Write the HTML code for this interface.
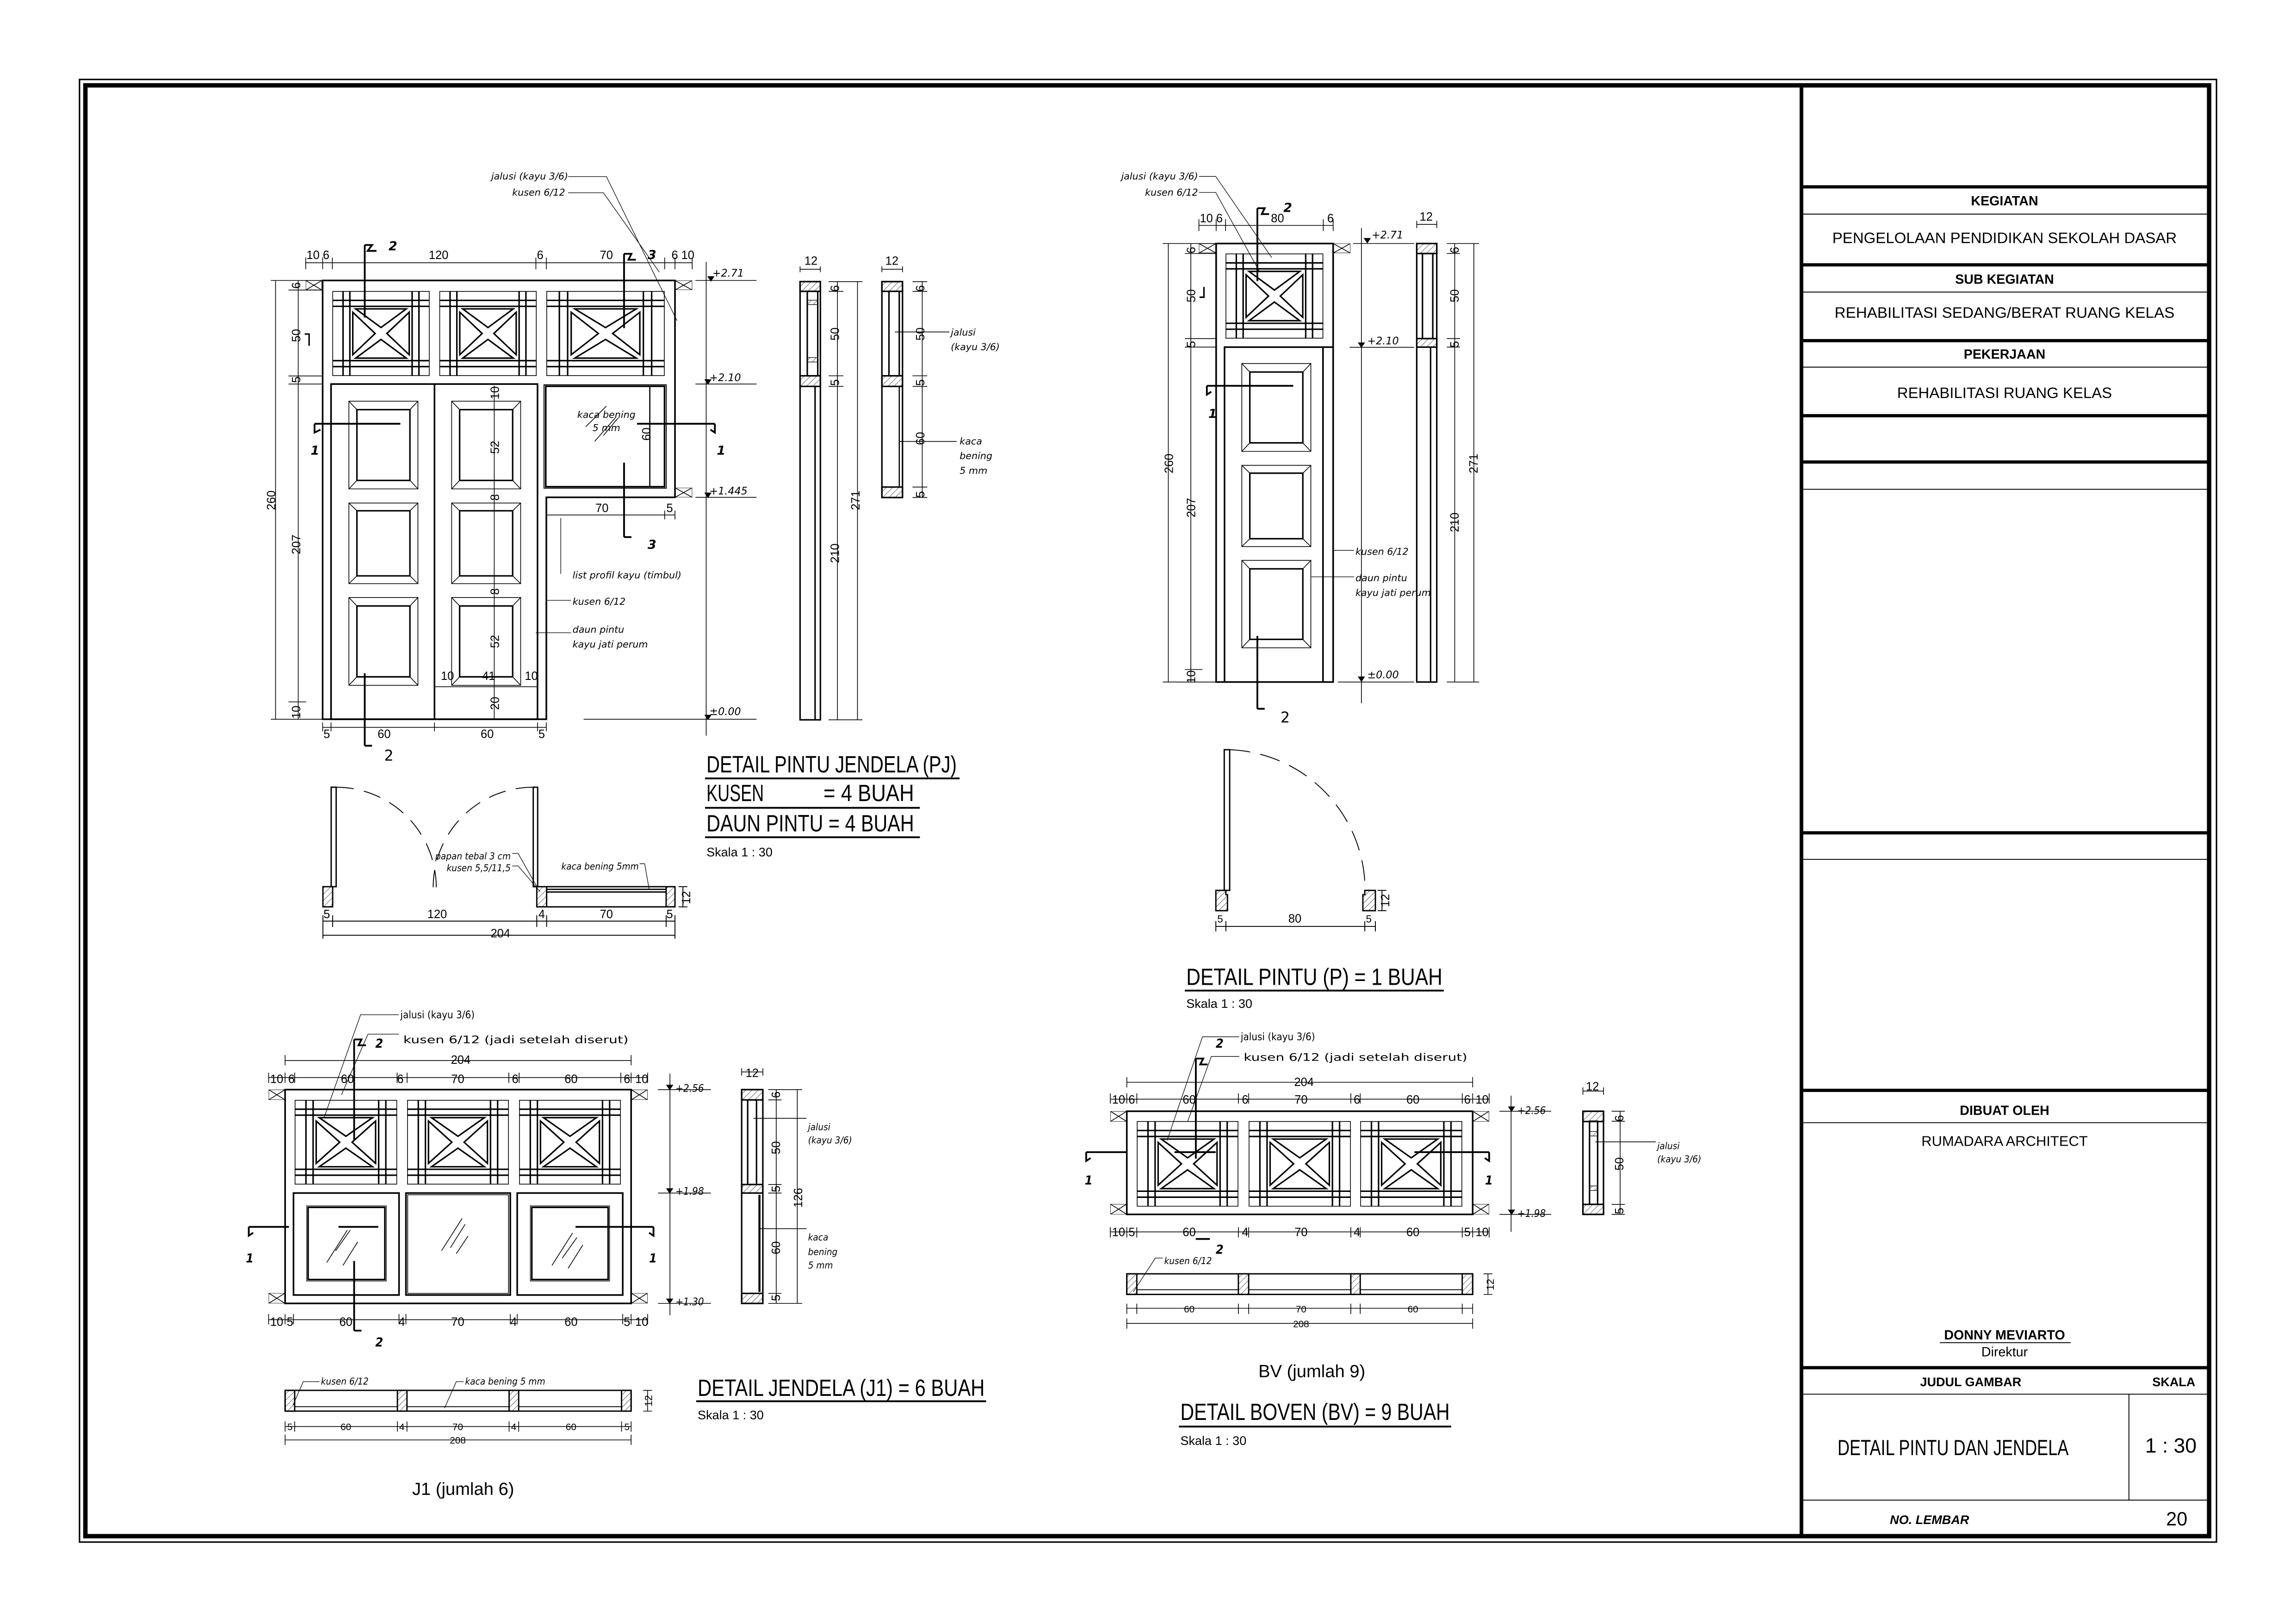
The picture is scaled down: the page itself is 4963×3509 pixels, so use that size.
<!DOCTYPE html>
<html><head><meta charset="utf-8"><style>html,body{margin:0;padding:0;background:#fff}svg{display:block}</style></head><body>
<svg xmlns="http://www.w3.org/2000/svg" width="4963" height="3509" viewBox="0 0 1560 1103">
<defs>
<pattern id="h" width="3" height="3" patternUnits="userSpaceOnUse" patternTransform="rotate(45)"><line x1="0" y1="0" x2="0" y2="3" stroke="#000" stroke-width="0.4"/></pattern>
<symbol id="jal" viewBox="0 0 100 100" preserveAspectRatio="none">
<g fill="none" stroke="#000" stroke-width="3.2">
<rect x="0" y="0" width="100" height="100" vector-effect="non-scaling-stroke"/>
<line x1="11" y1="0" x2="11" y2="100" vector-effect="non-scaling-stroke"/><line x1="89" y1="0" x2="89" y2="100" vector-effect="non-scaling-stroke"/>
<line x1="0" y1="11" x2="100" y2="11" vector-effect="non-scaling-stroke"/><line x1="0" y1="89" x2="100" y2="89" vector-effect="non-scaling-stroke"/>
<line x1="18" y1="0" x2="18" y2="11" vector-effect="non-scaling-stroke"/><line x1="82" y1="0" x2="82" y2="11" vector-effect="non-scaling-stroke"/>
<line x1="18" y1="89" x2="18" y2="100" vector-effect="non-scaling-stroke"/><line x1="82" y1="89" x2="82" y2="100" vector-effect="non-scaling-stroke"/>
<line x1="0" y1="18" x2="11" y2="18" vector-effect="non-scaling-stroke"/><line x1="0" y1="82" x2="11" y2="82" vector-effect="non-scaling-stroke"/>
<line x1="89" y1="18" x2="100" y2="18" vector-effect="non-scaling-stroke"/><line x1="89" y1="82" x2="100" y2="82" vector-effect="non-scaling-stroke"/>
<line x1="11" y1="18" x2="89" y2="18" vector-effect="non-scaling-stroke"/><line x1="11" y1="82" x2="89" y2="82" vector-effect="non-scaling-stroke"/>
<line x1="18" y1="11" x2="18" y2="89" vector-effect="non-scaling-stroke"/><line x1="82" y1="11" x2="82" y2="89" vector-effect="non-scaling-stroke"/>
<polygon points="24,21 76,21 50,43" vector-effect="non-scaling-stroke"/>
<polygon points="24,79 76,79 50,57" vector-effect="non-scaling-stroke"/>
<polygon points="21,25 21,75 44,50" vector-effect="non-scaling-stroke"/>
<polygon points="79,25 79,75 56,50" vector-effect="non-scaling-stroke"/>
</g></symbol>
<symbol id="pan" viewBox="0 0 100 100" preserveAspectRatio="none">
<g fill="none" stroke="#000" stroke-width="3.2">
<rect x="0" y="0" width="100" height="100" vector-effect="non-scaling-stroke"/>
<rect x="12" y="10" width="76" height="80" vector-effect="non-scaling-stroke"/>
<g stroke-width="1.6"><line x1="0" y1="0" x2="12" y2="10" vector-effect="non-scaling-stroke"/><line x1="100" y1="0" x2="88" y2="10" vector-effect="non-scaling-stroke"/>
<line x1="0" y1="100" x2="12" y2="90" vector-effect="non-scaling-stroke"/><line x1="100" y1="100" x2="88" y2="90" vector-effect="non-scaling-stroke"/></g>
</g></symbol>
<symbol id="hx" viewBox="0 0 10 10" preserveAspectRatio="none">
<g fill="none" stroke="#000" stroke-width="1.6"><rect x="0" y="0" width="10" height="10" vector-effect="non-scaling-stroke"/><path d="M0 0L10 10M10 0L0 10" vector-effect="non-scaling-stroke"/></g></symbol>
</defs>
<rect width="1560" height="1103" fill="#fff"/>
<!-- border -->
<rect x="54" y="54" width="1452" height="994" fill="none" stroke="#000" stroke-width="1"/>
<rect x="58" y="58" width="1443" height="986" fill="none" stroke="#000" stroke-width="3"/>
<!-- title block -->
<g stroke="#000" fill="none">
<line x1="1224" y1="58" x2="1224" y2="1044" stroke-width="2.5"/>
<g stroke-width="2.2">
<line x1="1224" y1="127" x2="1501" y2="127"/><line x1="1224" y1="180" x2="1501" y2="180"/><line x1="1224" y1="231.5" x2="1501" y2="231.5"/>
<line x1="1224" y1="282.5" x2="1501" y2="282.5"/><line x1="1224" y1="314" x2="1501" y2="314"/><line x1="1224" y1="566" x2="1501" y2="566"/>
<line x1="1224" y1="741" x2="1501" y2="741"/><line x1="1224" y1="929.5" x2="1501" y2="929.5"/>
</g>
<g stroke-width="0.6">
<line x1="1224" y1="145.5" x2="1501" y2="145.5"/><line x1="1224" y1="198.5" x2="1501" y2="198.5"/><line x1="1224" y1="249.5" x2="1501" y2="249.5"/>
<line x1="1224" y1="332.5" x2="1501" y2="332.5"/><line x1="1224" y1="584" x2="1501" y2="584"/><line x1="1224" y1="763" x2="1501" y2="763"/>
<line x1="1224" y1="947.5" x2="1501" y2="947.5"/><line x1="1224" y1="1019.5" x2="1501" y2="1019.5"/><line x1="1446.5" y1="947.5" x2="1446.5" y2="1019.5"/>
<line x1="1318" y1="912.5" x2="1407" y2="912.5"/>
</g></g>
<g font-family="Liberation Sans, sans-serif" text-anchor="middle" fill="#000">
<text x="1362" y="139.6" font-size="9" font-weight="bold">KEGIATAN</text>
<text x="1362" y="165.2" font-size="10.3" textLength="234" lengthAdjust="spacingAndGlyphs">PENGELOLAAN PENDIDIKAN SEKOLAH DASAR</text>
<text x="1362" y="192.9" font-size="9" font-weight="bold">SUB KEGIATAN</text>
<text x="1362" y="215.9" font-size="10.3" textLength="231" lengthAdjust="spacingAndGlyphs">REHABILITASI SEDANG/BERAT RUANG KELAS</text>
<text x="1362" y="243.8" font-size="9" font-weight="bold">PEKERJAAN</text>
<text x="1362" y="270.5" font-size="10.3" textLength="146" lengthAdjust="spacingAndGlyphs">REHABILITASI RUANG KELAS</text>
<text x="1362" y="757.7" font-size="9" font-weight="bold">DIBUAT OLEH</text>
<text x="1362" y="778.8" font-size="9.5" textLength="113" lengthAdjust="spacingAndGlyphs">RUMADARA ARCHITECT</text>
<text x="1362" y="910.3" font-size="9" font-weight="bold">DONNY MEVIARTO</text>
<text x="1362" y="921.8" font-size="9">Direktur</text>
<text x="1339" y="942" font-size="8.5" font-weight="bold">JUDUL GAMBAR</text>
<text x="1477" y="942" font-size="8.5" font-weight="bold">SKALA</text>
<text x="1327" y="988.9" font-size="15" font-family="Liberation Sans Narrow, Liberation Sans, sans-serif" textLength="157" lengthAdjust="spacingAndGlyphs">DETAIL PINTU DAN JENDELA</text>
<text x="1475" y="987.2" font-size="14">1 : 30</text>
<text x="1311" y="1035.7" font-size="8.5" font-weight="bold" font-style="italic">NO. LEMBAR</text>
<text x="1479" y="1036.7" font-size="13">20</text>
</g>

<!-- ================= PJ ================= -->
<g fill="none" stroke="#000" stroke-width="1.1">
<path d="M219.2,488.8 V190.6 H458.6 V338 H371.2 V488.8 Z"/>
<use href="#jal" x="225.8" y="197.8" width="66.1" height="57.7"/>
<use href="#jal" x="298.5" y="197.8" width="66.1" height="57.7"/>
<use href="#jal" x="371.2" y="197.8" width="80.4" height="57.7"/>
<rect x="224.9" y="261" width="140.3" height="227.8"/>
<line x1="295.2" y1="261" x2="295.2" y2="488.8"/>
<use href="#pan" x="236.8" y="272.4" width="47.4" height="60.1"/>
<use href="#pan" x="236.8" y="341.6" width="47.4" height="55.3"/>
<use href="#pan" x="236.8" y="405.8" width="47.4" height="60.2"/>
<use href="#pan" x="306.6" y="272.4" width="47.4" height="60.1"/>
<use href="#pan" x="306.6" y="341.6" width="47.4" height="55.3"/>
<use href="#pan" x="306.6" y="405.8" width="47.4" height="60.2"/>
<rect x="369.6" y="261.5" width="83.1" height="70.3" stroke-width="0.6"/>
<rect x="370.8" y="262.5" width="80.7" height="68.3"/>
<line x1="441.5" y1="262.5" x2="441.5" y2="330.8" stroke-width="0.8"/>
</g>
<use href="#hx" x="207.7" y="190.6" width="11" height="6.5"/>
<use href="#hx" x="458.6" y="190.6" width="11.7" height="6.5"/>
<use href="#hx" x="458.6" y="331.5" width="11.7" height="6.5"/>
<g fill="none" stroke="#000" stroke-width="0.5">
<path d="M398,290 l14,-14 M404,300 l14,-16 M410,296 l10,-12"/>
<line x1="207.7" y1="178.6" x2="470.3" y2="178.6"/>
<path d="M207.7,175v8M219.2,175v8M225.8,175v8M364.1,175v8M371.2,175v8M451.6,175v8M458.6,175v8M470.3,175v8"/>
<line x1="187.2" y1="190.6" x2="187.2" y2="488.8"/><line x1="202.6" y1="190.6" x2="202.6" y2="488.8"/>
<path d="M184,190.6h35M196,197.1h23M196,255.5h23M196,261h23M196,477h12M184,488.8h35"/>
<path d="M207,227h3v8" stroke-width="1"/>
<line x1="479.8" y1="178" x2="479.8" y2="500"/>
<path d="M472.5,190.6H514M472.5,261H514M472.5,338H514M396.5,488.8H514"/>
<path d="M481,188h4l-2,3zM479,258h4l-2,3zM479,335h4l-2,3zM479,486h4l-2,3z" fill="#000"/>
<line x1="219.2" y1="494.3" x2="371.2" y2="494.3"/>
<path d="M219.2,491v6M224.9,491v6M295.2,491v6M365.2,491v6M371.2,491v6"/>
<line x1="335.8" y1="262" x2="335.8" y2="488.8"/>
<path d="M295.2,466.7h70"/>
<line x1="371.2" y1="350" x2="451.6" y2="350"/><path d="M371.2,347v6M451.6,347v6M458.6,347v6"/>
<line x1="451.6" y1="350" x2="458.6" y2="350"/>
<path d="M386,120H412L460,218M386,131H410L448,185" stroke-width="0.4"/>
<path d="M381,352V390M371,408H388M364,430H388" stroke-width="0.4"/>
</g>
<g stroke="#000" stroke-width="1.2" fill="none">
<path d="M247.8,166.5V215.8M247.8,166.5h5l-3,4h6"/>
<path d="M247.8,457.5V506.8M247.8,506.8h5"/>
<path d="M213.7,288H272M213.7,288v6l4,-2"/>
<path d="M432.8,288H485.7M485.7,288v6l-3,-2"/>
<path d="M424,172.5V223M424,172.5h5l-2,4h5"/>
<path d="M424,314.4V365M424,365h5"/>
</g>
<g font-family="Liberation Sans Narrow, Liberation Sans, sans-serif" font-size="8" fill="#000" text-anchor="middle">
<text x="216" y="176">10 6</text><text x="298" y="176">120</text><text x="367" y="176">6</text><text x="412" y="176">70</text><text x="464" y="176">6 10</text>
<text x="261" y="501.5">60</text><text x="331" y="501.5">60</text><text x="222" y="501.5">5</text><text x="368" y="501.5">5</text>
<text x="409" y="348">70</text><text x="455" y="348">5</text>
<text x="304" y="462">10</text><text x="332" y="462">41</text><text x="361" y="462">10</text>
<g transform="rotate(-90)">
<text x="-340" y="187">260</text><text x="-370" y="204">207</text><text x="-194" y="204">6</text><text x="-228" y="204">50</text><text x="-258" y="204">5</text><text x="-484" y="204">10</text>
<text x="-267" y="339">10</text><text x="-304" y="339">52</text><text x="-338" y="339">8</text><text x="-402" y="339">8</text><text x="-436" y="339">52</text><text x="-478" y="339">20</text>
<text x="-295" y="442">60</text>
</g></g>
<g font-family="DejaVu Sans, sans-serif" font-size="7" font-style="italic" fill="#000">
<text x="484" y="188">+2.71</text><text x="482" y="259">+2.10</text><text x="482" y="336">+1.445</text><text x="482" y="486">±0.00</text>
<text x="386" y="122" text-anchor="end" font-size="6.5">jalusi (kayu 3/6)</text>
<text x="384" y="133" text-anchor="end" font-size="6.5">kusen 6/12</text>
<text x="412" y="284" text-anchor="middle" font-size="6.5">kaca bening</text>
<text x="412" y="293" text-anchor="middle" font-size="6.5">5 mm</text>
<text x="389" y="393" font-size="6.5">list profil kayu (timbul)</text>
<text x="389" y="411" font-size="6.5">kusen 6/12</text>
<text x="389" y="430" font-size="6.5">daun pintu</text>
<text x="389" y="440" font-size="6.5">kayu jati perum</text>
<text x="264" y="170" font-weight="bold" font-size="8.5">2</text>
<text x="440" y="176" font-weight="bold" font-size="8.5">3</text>
<text x="440" y="373" font-weight="bold" font-size="8.5">3</text>
<text x="211" y="309" font-weight="bold" font-size="8.5">1</text>
<text x="487" y="309" font-weight="bold" font-size="8.5">1</text>
<text x="261" y="517" font-size="10" font-style="normal">2</text>
</g>

<!-- PJ sections -->
<g fill="none" stroke="#000" stroke-width="1">
<rect x="543.6" y="191.4" width="13.8" height="297.8"/>
<rect x="543.6" y="191.4" width="13.8" height="6.6" fill="url(#h)"/>
<rect x="543.6" y="255.4" width="13.8" height="7.2" fill="url(#h)"/>
<rect x="548.5" y="198" width="7.1" height="57.4"/>
<rect x="548.5" y="204" width="7.1" height="3" fill="url(#h)" stroke-width="0.4"/>
<rect x="548.5" y="243" width="7.1" height="3" fill="url(#h)" stroke-width="0.4"/>
<line x1="553.8" y1="262.6" x2="553.8" y2="489.2"/>
<rect x="599.2" y="191.4" width="14" height="146.7"/>
<rect x="599.2" y="191.4" width="14" height="6.6" fill="url(#h)"/>
<rect x="599.2" y="255.4" width="14" height="7.2" fill="url(#h)"/>
<rect x="599.2" y="331" width="14" height="7.1" fill="url(#h)"/>
<rect x="604" y="198" width="7" height="57.4"/>
<line x1="611" y1="262.6" x2="611" y2="331" stroke-width="0.8"/>
</g>
<g fill="none" stroke="#000" stroke-width="0.5">
<path d="M543.6,181v4M557.4,181v4M543.6,183H557.4M599.2,181v4M613.2,181v4M599.2,183H613.2"/>
<path d="M569,191.4V489.2M582.6,191.4V489.2M563,191.4h23M563,198h10M563,255.4h10M563,262.6h10M563,489.2h23"/>
<path d="M626.6,191.4V338.1M620,191.4h10M620,198h10M620,255.4h10M620,262.6h10M620,331h10M620,338.1h10"/>
<path d="M608,225.6H645M611,300H650"/>
</g>
<g font-family="Liberation Sans Narrow, Liberation Sans, sans-serif" font-size="8" fill="#000" text-anchor="middle">
<text x="551" y="180">12</text><text x="606" y="180">12</text>
<g transform="rotate(-90)">
<text x="-196" y="570">6</text><text x="-227" y="570">50</text><text x="-260" y="570">5</text><text x="-376" y="570">210</text><text x="-340" y="584">271</text>
<text x="-196" y="628">6</text><text x="-227" y="628">50</text><text x="-260" y="628">5</text><text x="-298" y="628">60</text><text x="-336" y="628">5</text>
</g></g>
<g font-family="DejaVu Sans, sans-serif" font-size="6.5" font-style="italic" fill="#000">
<text x="646" y="228">jalusi</text><text x="646" y="238">(kayu 3/6)</text>
<text x="652" y="302">kaca</text><text x="652" y="312">bening</text><text x="652" y="322">5 mm</text>
</g>

<!-- PJ plan -->
<g fill="none" stroke="#000" stroke-width="0.9">
<rect x="225" y="535" width="3.4" height="67.6"/>
<rect x="362.3" y="535" width="3" height="67.6"/>
<rect x="219.4" y="602.6" width="6.6" height="13.7" fill="url(#h)"/>
<rect x="364.7" y="602.6" width="6.7" height="13.7" fill="url(#h)"/>
<rect x="452.6" y="602.6" width="6" height="13.7" fill="url(#h)"/>
<path d="M371.4,602.6H452.6M371.4,604.4H452.6M371.4,606.2H452.6M371.4,616.3H452.6"/>
<path d="M228.4,535 A68,68 0 0 1 296.4,603" stroke-dasharray="12,7" stroke-width="0.6"/>
<path d="M362.3,535 A68,68 0 0 0 294.3,603" stroke-dasharray="12,7" stroke-width="0.6"/>
</g>
<g fill="none" stroke="#000" stroke-width="0.6">
<path d="M219.4,626H458.6M219.4,635.6H458.6M219.4,622v16M226,622v8M364.7,622v8M371.4,622v8M452.6,622v8M458.6,622v16"/>
<path d="M464,602.6v13.7M461,602.6h6M461,616.3h6"/>
<path d="M348,580H352L365,603M348,588.5H352L367,606M434.6,587H438L441,604" stroke-width="0.4"/>
</g>
<g font-family="Liberation Sans Narrow, Liberation Sans, sans-serif" font-size="8" fill="#000" text-anchor="middle">
<text x="297" y="624">120</text><text x="412" y="624">70</text><text x="340" y="637">204</text><text x="222" y="624">5</text><text x="368" y="624">4</text><text x="455" y="624">5</text>
<text transform="translate(469,610) rotate(-90)">12</text>
</g>
<g font-family="DejaVu Sans Condensed, DejaVu Sans, sans-serif" font-size="6.5" font-style="italic" fill="#000" text-anchor="end">
<text x="347" y="584">papan tebal 3 cm</text><text x="347" y="592">kusen 5,5/11,5</text>
<text x="434" y="591">kaca bening 5mm</text>
</g>
<g font-family="Liberation Sans Narrow, Liberation Sans, sans-serif" fill="#000">
<text x="480" y="525" font-size="16" textLength="170" lengthAdjust="spacingAndGlyphs">DETAIL PINTU JENDELA (PJ)</text>
<text x="480" y="544.5" font-size="16" textLength="39" lengthAdjust="spacingAndGlyphs">KUSEN</text><text x="559.5" y="544.5" font-size="16" textLength="61.5" lengthAdjust="spacingAndGlyphs">= 4 BUAH</text>
<text x="480" y="565" font-size="16" textLength="141" lengthAdjust="spacingAndGlyphs">DAUN PINTU = 4 BUAH</text>
<text x="480" y="582" font-size="8.5">Skala 1 : 30</text>
</g>
<g stroke="#000" stroke-width="1.2"><line x1="479" y1="529" x2="652" y2="529"/><line x1="479" y1="549" x2="625" y2="549"/><line x1="479" y1="569" x2="625" y2="569"/></g>

<!-- ================= P (door) ================= -->
<g fill="none" stroke="#000" stroke-width="1.1">
<rect x="826.3" y="165.5" width="79.5" height="298"/>
<use href="#jal" x="832.7" y="172.3" width="66.4" height="57.8"/>
<path d="M832,463.5V235.9H905.8M898.9,235.9V463.5"/>
<use href="#pan" x="843.5" y="246.8" width="47.4" height="60.2"/>
<use href="#pan" x="843.5" y="316" width="47.4" height="55.7"/>
<use href="#pan" x="843.5" y="380.6" width="47.4" height="59.9"/>
</g>
<use href="#hx" x="814.6" y="165.5" width="11.7" height="6.5"/>
<use href="#hx" x="905.8" y="165.5" width="11.7" height="6.5"/>
<g fill="none" stroke="#000" stroke-width="0.5">
<path d="M814.6,153.2H905.8M814.6,149v8M826.3,149v8M832.7,149v8M899.1,149v8M905.8,149v8"/>
<path d="M793.8,165.5V463.5M809.1,165.5V463.5M790,165.5h36M805,172.3h21M805,230.1h21M805,235.9h21M805,455h12M790,463.5h36"/>
<path d="M815,202h3v-7" stroke-width="1"/>
<path d="M925,155V478M919.3,165.5H960.8M917,236H960.8M909,463.5H960.8"/>
<path d="M927,162h4l-2,3zM923,233h4l-2,3zM923,460h4l-2,3z" fill="#000"/>
<path d="M814.6,119.9H826L864,175M814.6,130.8H826L856,185" stroke-width="0.4"/>
<path d="M906,374H920M891,392H920" stroke-width="0.4"/>
</g>
<g fill="none" stroke="#000" stroke-width="1">
<rect x="962.6" y="165.5" width="13.6" height="298"/>
<rect x="962.6" y="165.5" width="13.6" height="6.8" fill="url(#h)"/>
<rect x="962.6" y="230.1" width="13.6" height="5.8" fill="url(#h)"/>
<rect x="966.5" y="172.3" width="7" height="57.8"/>
<line x1="972" y1="235.9" x2="972" y2="463.5"/>
</g>
<g fill="none" stroke="#000" stroke-width="0.5">
<path d="M962.6,150v5M976.2,150v5M962.6,152.5H976.2"/>
<path d="M988.4,165.5V463.5M1001.4,165.5V463.5M983,165.5h22M983,172.3h9M983,230.1h9M983,235.9h9M983,463.5h22"/>
</g>
<g stroke="#000" stroke-width="1.2" fill="none">
<path d="M854.3,141.5V191M854.3,141.5h5l-2,4h5"/>
<path d="M854.3,432.2V481.7M854.3,481.7h5"/>
<path d="M820,262.2H878.7M820,262.2v6l3,-2"/>
</g>
<g font-family="Liberation Sans Narrow, Liberation Sans, sans-serif" font-size="8" fill="#000" text-anchor="middle">
<text x="823" y="151">10 6</text><text x="868" y="151">80</text><text x="904" y="151">6</text><text x="969" y="150">12</text>
<g transform="rotate(-90)">
<text x="-315" y="797">260</text><text x="-345" y="812">207</text><text x="-170" y="812">6</text><text x="-201" y="812">50</text><text x="-234" y="812">5</text><text x="-460" y="812">10</text>
<text x="-170" y="991">6</text><text x="-201" y="991">50</text><text x="-234" y="991">5</text><text x="-355" y="991">210</text><text x="-315" y="1004">271</text>
</g></g>
<g font-family="DejaVu Sans, sans-serif" font-size="7" font-style="italic" fill="#000">
<text x="932" y="162">+2.71</text><text x="929" y="234">+2.10</text><text x="929" y="461">±0.00</text>
<text x="814" y="122" text-anchor="end" font-size="6.5">jalusi (kayu 3/6)</text>
<text x="814" y="133" text-anchor="end" font-size="6.5">kusen 6/12</text>
<text x="921" y="377" font-size="6.5">kusen 6/12</text>
<text x="921" y="395" font-size="6.5">daun pintu</text>
<text x="921" y="405" font-size="6.5">kayu jati perum</text>
<text x="872" y="144" font-weight="bold" font-size="8.5">2</text>
<text x="821" y="284" font-weight="bold" font-size="8.5">1</text>
<text x="870" y="491" font-size="10" font-style="normal">2</text>
</g>
<!-- P plan -->
<g fill="none" stroke="#000" stroke-width="0.9">
<rect x="831.8" y="509.5" width="3.7" height="95.6"/>
<path d="M826.1,605.1H832.9V608H834V618.9H826.1Z" fill="url(#h)"/>
<path d="M934.5,605.1H927.3V608H926V618.9H934.5Z" fill="url(#h)"/>
<path d="M835.5,509.5 A95.6,95.6 0 0 1 927.5,605" stroke-dasharray="14,7" stroke-width="0.6"/>
</g>
<g fill="none" stroke="#000" stroke-width="0.6">
<path d="M826.1,629.6H934.5M826.1,626v7M832.9,626v7M927.3,626v7M934.5,626v7"/>
<path d="M939,605.1v13.8M936,605.1h6M936,618.9h6"/>
</g>
<g font-family="Liberation Sans Narrow, Liberation Sans, sans-serif" fill="#000">
<text x="879.8" y="627" font-size="8" text-anchor="middle">80</text><text x="829" y="627" font-size="7" text-anchor="middle">5</text><text x="930" y="627" font-size="7" text-anchor="middle">5</text>
<text transform="translate(944,612) rotate(-90)" font-size="8" text-anchor="middle">12</text>
<text x="806" y="669.3" font-size="16" textLength="174" lengthAdjust="spacingAndGlyphs">DETAIL PINTU  (P) = 1 BUAH</text>
<text x="806" y="685" font-size="8.5">Skala 1 : 30</text>
</g>
<line x1="805" y1="673.2" x2="981" y2="673.2" stroke="#000" stroke-width="1.2"/>

<!-- ================= J1 ================= -->
<g fill="none" stroke="#000" stroke-width="1.1">
<rect x="193.7" y="740.5" width="235.1" height="145.3"/>
<use href="#jal" x="200.2" y="747.5" width="69.6" height="57.5"/>
<use href="#jal" x="276.6" y="747.5" width="69.1" height="57.5"/>
<use href="#jal" x="352.7" y="747.5" width="69.1" height="57.5"/>
<rect x="199.4" y="810.8" width="71.7" height="69.3"/>
<rect x="275.8" y="810.8" width="70.9" height="69.3"/>
<rect x="277" y="812" width="68.5" height="67" stroke-width="0.5"/>
<rect x="351.4" y="810.8" width="71.7" height="69.3"/>
<rect x="209.3" y="820.5" width="52.2" height="49.1"/>
<rect x="208.3" y="819.5" width="54.2" height="51.1" stroke-width="0.4"/>
<rect x="361.3" y="820.5" width="51.9" height="49.1"/>
<rect x="360.3" y="819.5" width="53.9" height="51.1" stroke-width="0.4"/>
</g>
<use href="#hx" x="182.5" y="740.5" width="11.2" height="7"/>
<use href="#hx" x="182.5" y="878.8" width="11.2" height="7"/>
<use href="#hx" x="428.8" y="740.5" width="11.2" height="7"/>
<use href="#hx" x="428.8" y="878.8" width="11.2" height="7"/>
<g fill="none" stroke="#000" stroke-width="0.5">
<path d="M222,858l14,-22M228,850l10,-14M233,860l10,-16M300,850l14,-22M306,848l10,-16M310,852l8,-12M375,860l14,-22M382,855l10,-14M386,862l10,-16"/>
<path d="M193.7,720.7H428.8M193.7,717v7M428.8,717v7"/>
<path d="M182.5,732.3H440M182.5,729v7M193.7,729v7M200.2,729v7M269.8,729v7M276.6,729v7M345.7,729v7M352.7,729v7M421.8,729v7M428.8,729v7M440,729v7"/>
<path d="M182.5,896.9H440M182.5,893v7M193.7,893v7M199.4,893v7M271.1,893v7M275.8,893v7M346.7,893v7M351.4,893v7M423.1,893v7M428.8,893v7M440,893v7"/>
<path d="M455.2,729.6V893.8M447.1,740.5H483M447.1,810.8H483M447.1,885.8H483"/>
<path d="M453,737.5h4l-2,3zM453,807.8h4l-2,3zM453,882.8h4l-2,3z" fill="#000"/>
<path d="M271,689.6H245L220,760M271,702.8H250L232,744" stroke-width="0.4"/>
</g>
<g stroke="#000" stroke-width="1.2" fill="none">
<path d="M240.6,706.4V774.8M240.6,706.4h5l-2,4h5"/>
<path d="M240.6,857V904.3M240.6,904.3h5"/>
<path d="M169,833.8H196.3M169,833.8v6l3,-2"/>
<path d="M391,833.8H444M444,833.8v6l-3,-2"/>
<path d="M230,833.8H257"/>
</g>
<g fill="none" stroke="#000" stroke-width="1">
<rect x="503.9" y="740.5" width="14.4" height="145.3"/>
<rect x="503.9" y="740.5" width="14.4" height="7" fill="url(#h)"/>
<rect x="503.9" y="805" width="14.4" height="5.8" fill="url(#h)"/>
<rect x="503.9" y="879" width="14.4" height="6.8" fill="url(#h)"/>
<rect x="508" y="747.5" width="6" height="57.5"/>
<line x1="516" y1="812" x2="516" y2="878" stroke-width="1.4"/>
</g>
<g fill="none" stroke="#000" stroke-width="0.5">
<path d="M503.9,726v5M518.3,726v5M503.9,728.5H518.3"/>
<path d="M527.4,740.5V885.8M541.7,740.5V885.8M522,740.5h23M522,747.5h9M522,805h9M522,810.8h9M522,879h9M522,885.8h23"/>
<path d="M512,760H548M516,835H548"/>
</g>
<!-- J1 plan -->
<g fill="none" stroke="#000" stroke-width="0.9">
<rect x="193.7" y="944.9" width="235.1" height="14.1"/>
<rect x="193.7" y="944.9" width="6.5" height="14.1" fill="url(#h)"/>
<rect x="270" y="944.9" width="6.5" height="14.1" fill="url(#h)"/>
<rect x="345.9" y="944.9" width="6.5" height="14.1" fill="url(#h)"/>
<rect x="422.3" y="944.9" width="6.5" height="14.1" fill="url(#h)"/>
<path d="M200.2,956H270M276.5,956H345.9M352.4,956H422.3" stroke-width="0.6"/>
</g>
<g fill="none" stroke="#000" stroke-width="0.5">
<path d="M193.7,969.5H428.8M193.7,966v7M200.2,966v7M270,966v7M276.5,966v7M345.9,966v7M352.4,966v7M422.3,966v7M428.8,966v7"/>
<path d="M193.7,978.6H428.8M193.7,975v7M428.8,975v7"/>
<path d="M440,944.9v14.1M437,944.9h6M437,959h6"/>
<path d="M217,939H206L199,955M315,939H310L302,957" stroke-width="0.4"/>
</g>
<g font-family="Liberation Sans Narrow, Liberation Sans, sans-serif" font-size="8" fill="#000" text-anchor="middle">
<text x="313" y="723">204</text>
<text x="188" y="736">10</text><text x="198" y="736">6</text><text x="236" y="736">60</text><text x="272" y="736">6</text><text x="311" y="736">70</text><text x="350" y="736">6</text><text x="388" y="736">60</text><text x="426" y="736">6</text><text x="436" y="736">10</text>
<text x="188" y="901">10</text><text x="197" y="901">5</text><text x="235" y="901">60</text><text x="273" y="901">4</text><text x="311" y="901">70</text><text x="349" y="901">4</text><text x="388" y="901">60</text><text x="426" y="901">5</text><text x="436" y="901">10</text>
<text x="511" y="732">12</text>
<g font-size="6.5"><text x="197" y="972">5</text><text x="235" y="972">60</text><text x="273" y="972">4</text><text x="311" y="972">70</text><text x="349" y="972">4</text><text x="388" y="972">60</text><text x="426" y="972">5</text><text x="311" y="981">208</text></g>
<text transform="translate(443,952) rotate(-90)" font-size="7">12</text>
<g transform="rotate(-90)"><text x="-780" y="530">50</text><text x="-814" y="545">126</text><text x="-848" y="530">60</text><text x="-744" y="530">6</text><text x="-808" y="530">5</text><text x="-882" y="530">5</text></g>
</g>
<g font-family="DejaVu Sans Condensed, DejaVu Sans, sans-serif" font-size="7" fill="#000">
<text x="272" y="692">jalusi (kayu 3/6)</text>
<text x="274" y="709" textLength="153" lengthAdjust="spacingAndGlyphs">kusen 6/12 (jadi setelah diserut)</text>
<g font-style="italic" font-size="6.5"><text x="549" y="768">jalusi</text><text x="549" y="777">(kayu 3/6)</text>
<text x="549" y="843">kaca</text><text x="549" y="853">bening</text><text x="549" y="862">5 mm</text>
<text x="218" y="941">kusen 6/12</text><text x="316" y="941">kaca bening 5 mm</text></g>
<g font-style="italic" font-size="7"><text x="459" y="742">+2.56</text><text x="459" y="812">+1.98</text><text x="459" y="887">+1.30</text></g>
<g font-weight="bold" font-style="italic" font-size="8.5"><text x="255" y="712">2</text><text x="255" y="915">2</text><text x="167" y="858">1</text><text x="441" y="858">1</text></g>
</g>
<text x="280" y="1016" font-family="Liberation Sans, sans-serif" font-size="12" fill="#000">J1 (jumlah 6)</text>
<g font-family="Liberation Sans Narrow, Liberation Sans, sans-serif" fill="#000">
<text x="474" y="948.6" font-size="16" textLength="195" lengthAdjust="spacingAndGlyphs">DETAIL JENDELA (J1) = 6 BUAH</text>
<text x="474" y="964.5" font-size="8.5">Skala 1 : 30</text>
</g>
<line x1="473" y1="952.3" x2="670" y2="952.3" stroke="#000" stroke-width="1.2"/>

<!-- ================= BV ================= -->
<g fill="none" stroke="#000" stroke-width="1.1">
<rect x="765.6" y="755.2" width="235" height="70.1"/>
<use href="#jal" x="772.4" y="761.9" width="69" height="58.1"/>
<use href="#jal" x="848.4" y="761.9" width="69.4" height="58.1"/>
<use href="#jal" x="924.2" y="761.9" width="69.3" height="58.1"/>
</g>
<use href="#hx" x="754.4" y="755.2" width="11.2" height="7"/>
<use href="#hx" x="754.4" y="818.3" width="11.2" height="7"/>
<use href="#hx" x="1000.6" y="755.2" width="11.2" height="7"/>
<use href="#hx" x="1000.6" y="818.3" width="11.2" height="7"/>
<g fill="none" stroke="#000" stroke-width="0.5">
<path d="M765.6,735.5H1000.6M765.6,732v7M1000.6,732v7"/>
<path d="M754.4,747H1011.8M754.4,743v7M765.6,743v7M772.4,743v7M841.4,743v7M848.4,743v7M917.8,743v7M924.2,743v7M993.5,743v7M1000.6,743v7M1011.8,743v7"/>
<path d="M754.4,837.2H1011.8M754.4,834v7M765.6,834v7M772.4,834v7M841.4,834v7M848.4,834v7M917.8,834v7M924.2,834v7M993.5,834v7M1000.6,834v7M1011.8,834v7"/>
<path d="M1026.7,744.6V837.2M1018.8,755.2H1053.9M1018.8,825.3H1053.9"/>
<path d="M1025,752.2h4l-2,3zM1025,822.3h4l-2,3z" fill="#000"/>
<path d="M842,704.6H817L793,775M842,718H823L807,762" stroke-width="0.4"/>
</g>
<g stroke="#000" stroke-width="1.2" fill="none">
<path d="M812.5,719.4V787.4M812.5,719.4h5l-2,4h5"/>
<path d="M812.5,842H822"/>
<path d="M738,783H765.6M738,783v6l3,-2"/>
<path d="M961,783H1011.8M1011.8,783v6l-3,-2"/>
<path d="M798,783H826"/>
</g>
<g fill="none" stroke="#000" stroke-width="1">
<rect x="1075.5" y="755.2" width="14" height="70.1"/>
<rect x="1075.5" y="755.2" width="14" height="7" fill="url(#h)"/>
<rect x="1075.5" y="818.5" width="14" height="6.8" fill="url(#h)"/>
<rect x="1080" y="762" width="5.5" height="56.5"/>
<rect x="1080" y="769" width="5.5" height="3" fill="url(#h)" stroke-width="0.4"/>
<rect x="1080" y="806" width="5.5" height="3" fill="url(#h)" stroke-width="0.4"/>
</g>
<g fill="none" stroke="#000" stroke-width="0.5">
<path d="M1075.5,739v5M1089.5,739v5M1075.5,741.5H1089.5"/>
<path d="M1100.8,755.2V825.3M1095,755.2h9M1095,762h9M1095,818.5h9M1095,825.3h9"/>
<path d="M1084,776H1125"/>
</g>
<!-- BV plan -->
<g fill="none" stroke="#000" stroke-width="0.9">
<rect x="765.6" y="865.7" width="235" height="14"/>
<rect x="765.6" y="865.7" width="6.8" height="14" fill="url(#h)"/>
<rect x="841.4" y="865.7" width="7" height="14" fill="url(#h)"/>
<rect x="917.8" y="865.7" width="6.4" height="14" fill="url(#h)"/>
<rect x="993.5" y="865.7" width="7.1" height="14" fill="url(#h)"/>
<path d="M772.4,876.5H841.4M848.4,876.5H917.8M924.2,876.5H993.5" stroke-width="0.6"/>
</g>
<g fill="none" stroke="#000" stroke-width="0.5">
<path d="M765.6,889.1H1000.6M765.6,886v7M772.4,886v7M841.4,886v7M848.4,886v7M917.8,886v7M924.2,886v7M993.5,886v7M1000.6,886v7"/>
<path d="M765.6,899.4H1000.6M765.6,896v7M1000.6,896v7"/>
<path d="M1011,865.7v14M1008,865.7h6M1008,879.7h6"/>
<path d="M790,855H785L770,878" stroke-width="0.4"/>
</g>
<g font-family="Liberation Sans Narrow, Liberation Sans, sans-serif" font-size="8" fill="#000" text-anchor="middle">
<text x="886" y="738">204</text>
<text x="760" y="750">10</text><text x="769" y="750">6</text><text x="808" y="750">60</text><text x="846" y="750">6</text><text x="884" y="750">70</text><text x="922" y="750">6</text><text x="960" y="750">60</text><text x="997" y="750">6</text><text x="1007" y="750">10</text>
<text x="760" y="840">10</text><text x="769" y="840">5</text><text x="808" y="840">60</text><text x="846" y="840">4</text><text x="884" y="840">70</text><text x="922" y="840">4</text><text x="960" y="840">60</text><text x="997" y="840">5</text><text x="1007" y="840">10</text>
<text x="1082" y="741">12</text>
<g font-size="6.5"><text x="808" y="892">60</text><text x="884" y="892">70</text><text x="960" y="892">60</text><text x="884" y="902">208</text></g>
<text transform="translate(1015,873) rotate(-90)" font-size="7">12</text>
<g transform="rotate(-90)"><text x="-791" y="1103">50</text><text x="-760" y="1103">6</text><text x="-823" y="1103">5</text></g>
</g>
<g font-family="DejaVu Sans Condensed, DejaVu Sans, sans-serif" font-size="7" fill="#000">
<text x="843" y="707">jalusi (kayu 3/6)</text>
<text x="845" y="721" textLength="152" lengthAdjust="spacingAndGlyphs">kusen 6/12 (jadi setelah diserut)</text>
<g font-style="italic" font-size="6.5"><text x="1126" y="781">jalusi</text><text x="1126" y="790">(kayu 3/6)</text><text x="791" y="859">kusen 6/12</text></g>
<g font-style="italic" font-size="7"><text x="1031" y="757">+2.56</text><text x="1031" y="827">+1.98</text></g>
<g font-weight="bold" font-style="italic" font-size="8.5"><text x="826" y="712">2</text><text x="826" y="852">2</text><text x="737" y="805">1</text><text x="1009" y="805">1</text></g>
</g>
<text x="855" y="936" font-family="Liberation Sans, sans-serif" font-size="12" fill="#000">BV (jumlah 9)</text>
<g font-family="Liberation Sans Narrow, Liberation Sans, sans-serif" fill="#000">
<text x="802" y="965" font-size="16" textLength="183" lengthAdjust="spacingAndGlyphs">DETAIL BOVEN (BV) = 9 BUAH</text>
<text x="802" y="982" font-size="8.5">Skala 1 : 30</text>
</g>
<line x1="801" y1="969.5" x2="986" y2="969.5" stroke="#000" stroke-width="1.2"/>
</svg>
</body></html>
